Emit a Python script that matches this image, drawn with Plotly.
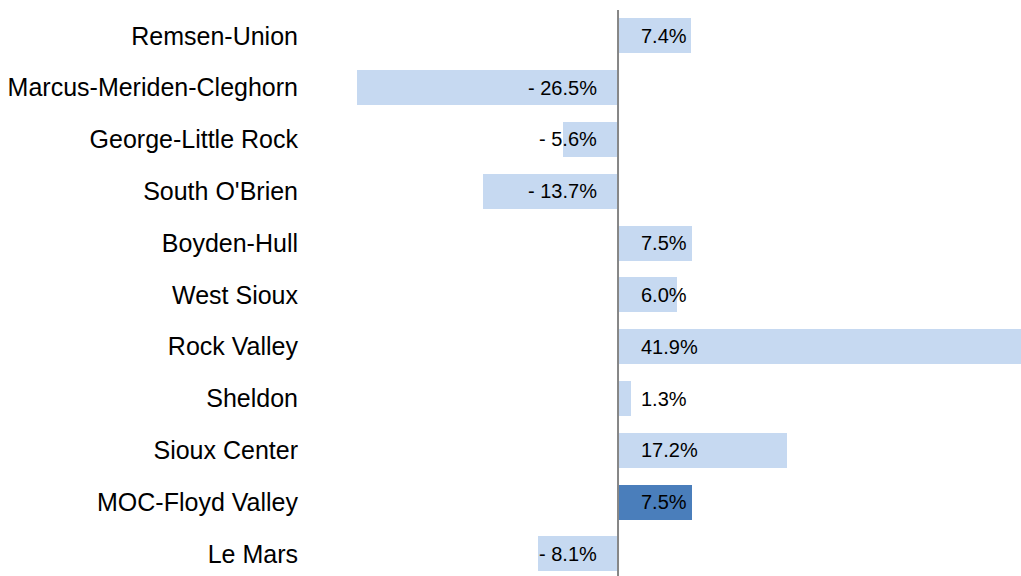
import plotly.graph_objects as go

categories = ["Remsen-Union", "Marcus-Meriden-Cleghorn", "George-Little Rock", "South O'Brien",
              "Boyden-Hull", "West Sioux", "Rock Valley", "Sheldon", "Sioux Center",
              "MOC-Floyd Valley", "Le Mars"]
values = [7.4, -26.5, -5.6, -13.7, 7.5, 6.0, 41.9, 1.3, 17.2, 7.5, -8.1]
highlight = "MOC-Floyd Valley"

LIGHT = "#C6D9F1"
DARK = "#4A7EBB"

n = len(categories)
ypos = [n - 1 - i for i in range(n)]
colors = [DARK if c == highlight else LIGHT for c in categories]

def fmt(v):
    return f"- {abs(v):.1f}%" if v < 0 else f"{v:.1f}%"

fig = go.Figure()
fig.add_trace(go.Bar(
    x=values, y=ypos, orientation="h",
    marker=dict(color=colors, line=dict(width=0)),
    width=0.676, hoverinfo="skip",
))

for v, y in zip(values, ypos):
    fig.add_annotation(
        x=0, y=y, xref="x", yref="y", text=fmt(v), showarrow=False,
        xanchor="left" if v >= 0 else "right",
        xshift=21 if v >= 0 else -19,
        font=dict(family="Liberation Sans, Arial, sans-serif", size=20, color="#000000"),
    )

fig.add_shape(type="line", xref="x", yref="y", x0=0, x1=0, y0=-0.6, y1=n - 0.5,
              line=dict(color="#868686", width=2))

fig.update_layout(
    width=1021, height=576,
    margin=dict(l=310, r=0, t=0, b=0),
    paper_bgcolor="white", plot_bgcolor="white",
    showlegend=False,
    bargap=0,
    font=dict(family="Liberation Sans, Arial, sans-serif", color="#000000"),
)
fig.update_xaxes(range=[-31.27, 40.91], showgrid=False, zeroline=False,
                 showticklabels=False, showline=False, fixedrange=True)
fig.update_yaxes(range=[-0.425, 10.691], tickvals=ypos, ticktext=categories,
                 showgrid=False, zeroline=False, showline=False, ticks="",
                 ticklabelstandoff=11, tickfont=dict(size=25, color="#000000"),
                 fixedrange=True)

fig.write_html("out.html", config={"displayModeBar": False},
               post_script="document.body.style.margin='0';document.body.style.overflow='hidden';")
